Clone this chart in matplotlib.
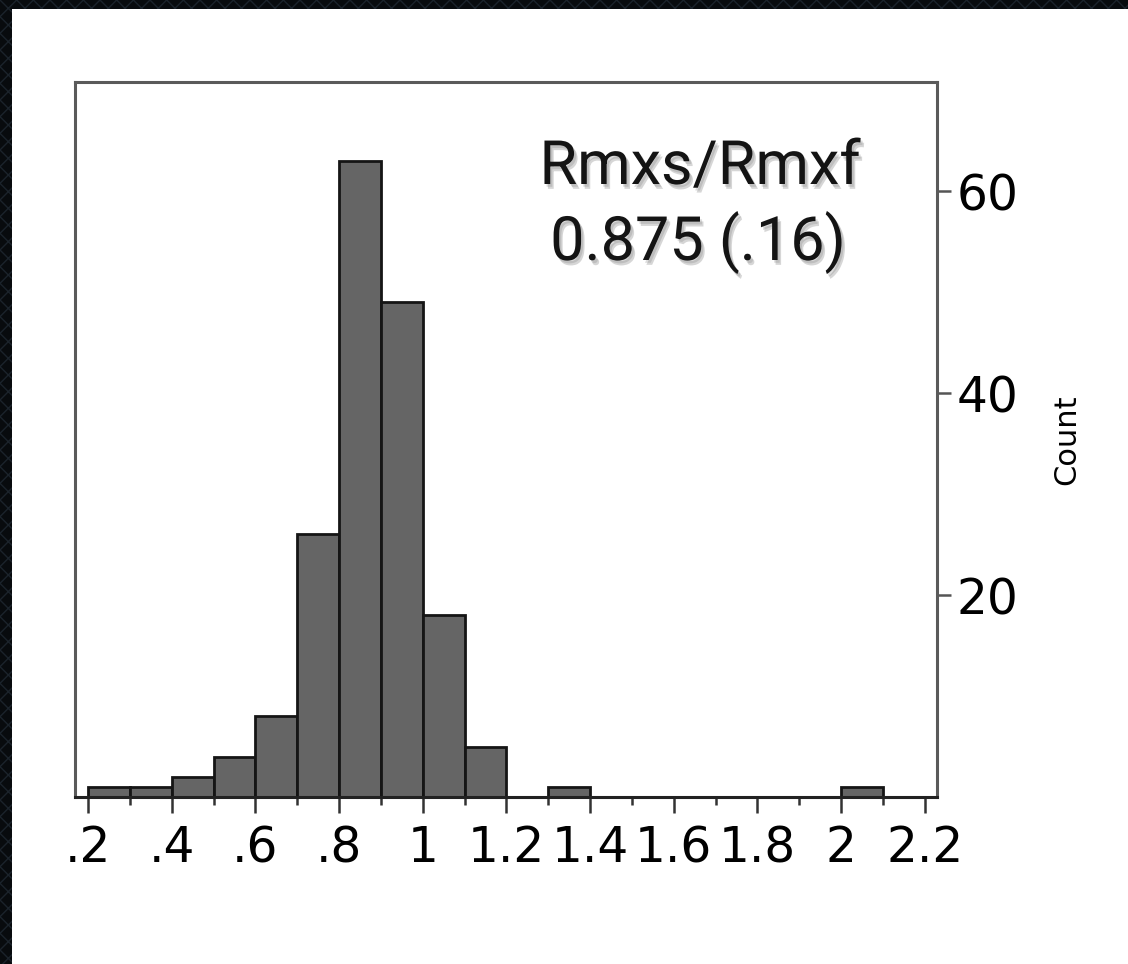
import matplotlib
matplotlib.use("Agg")
import matplotlib.pyplot as plt
import matplotlib.patheffects as pe
from matplotlib.patches import Rectangle
import numpy as np

# ---- data ----
bin_left = [0.2, 0.3, 0.4, 0.5, 0.6, 0.7, 0.8, 0.9, 1.0, 1.1, 1.2, 1.3,
            1.4, 1.5, 1.6, 1.7, 1.8, 1.9, 2.0]
counts = [1, 1, 2, 4, 8, 26, 63, 49, 18, 5, 0, 1,
          0, 0, 0, 0, 0, 0, 1]
bin_width = 0.1
x_ticks = [0.2, 0.4, 0.6, 0.8, 1.0, 1.2, 1.4, 1.6, 1.8, 2.0, 2.2]
x_tick_labels = [".2", ".4", ".6", ".8", "1", "1.2", "1.4", "1.6", "1.8", "2", "2.2"]
x_minor_ticks = [0.3, 0.5, 0.7, 0.9, 1.1, 1.3, 1.5, 1.7, 1.9, 2.1]
y_ticks = [20, 40, 60]
y_label = "Count"
annot_title = "Rmxs/Rmxf"
annot_value = "0.875 (.16)"

W, H = 1128, 964
fig = plt.figure(figsize=(W / 100, H / 100), dpi=100)

# dark textured frame and white panel
fig.patches.append(Rectangle((0, 0), 1, 1, transform=fig.transFigure,
                             facecolor="#080b0e", edgecolor="#1b232b",
                             hatch="xx", linewidth=0, zorder=-2))
fig.patches.append(Rectangle((12 / W, 0), 1, 1 - 9 / H, transform=fig.transFigure,
                             facecolor="white", edgecolor="none", zorder=-1))

ax = fig.add_axes([75 / W, (H - 797) / H, (937 - 75) / W, (797 - 82) / H])
ax.set_facecolor("white")

nz = [(l, c) for l, c in zip(bin_left, counts) if c > 0]
ax.bar([l for l, c in nz], [c for l, c in nz], width=bin_width, align="edge",
       color="#656565", edgecolor="#151515", linewidth=2.0, zorder=2)

ax.set_xlim(0.169, 2.229)
ax.set_ylim(0, 70.8)

for s in ax.spines.values():
    s.set_color("#5a5a5a")
    s.set_linewidth(2.2)
ax.spines["bottom"].set_color("#222222")

ax.set_xticks(x_ticks)
ax.set_xticklabels(x_tick_labels)
ax.set_xticks(x_minor_ticks, minor=True)
ax.tick_params(axis="x", which="major", direction="out", length=11.5, width=1.8,
               color="#333333", labelsize=35, pad=8)
ax.tick_params(axis="x", which="minor", direction="out", length=6, width=1.8,
               color="#333333")

ax.yaxis.tick_right()
ax.set_yticks(y_ticks)
ax.tick_params(axis="y", which="major", direction="out", length=10, width=1.8,
               color="#555555", labelsize=35, pad=4)
ax.tick_params(axis="y", which="minor", length=0)
ax.tick_params(axis="y", left=False, labelleft=False)

ax.yaxis.set_label_position("right")
ax.set_ylabel(y_label, fontsize=22, rotation=90)
ax.yaxis.set_label_coords((1052 - 75) / 862, 0.5)

fam = ["Roboto", "DejaVu Sans"]
shadow = [pe.SimplePatchShadow(offset=(2.5, -3.5), shadow_rgbFace="#7a7a7a", alpha=0.3),
          pe.SimplePatchShadow(offset=(1.5, -2.0), shadow_rgbFace="#7a7a7a", alpha=0.25),
          pe.Normal()]
lines = [(annot_title, (700 - 75) / 862, (797 - 184) / 715),
         (annot_value, (698 - 75) / 862, (797 - 260) / 715)]
for txt, xa, ya in lines:
    ax.text(xa, ya, txt, transform=ax.transAxes, ha="center", va="baseline",
            fontsize=44, family=fam, fontweight="normal", color="#141414",
            path_effects=shadow, zorder=5)

fig.savefig("out.png", dpi=100, facecolor=fig.get_facecolor())
